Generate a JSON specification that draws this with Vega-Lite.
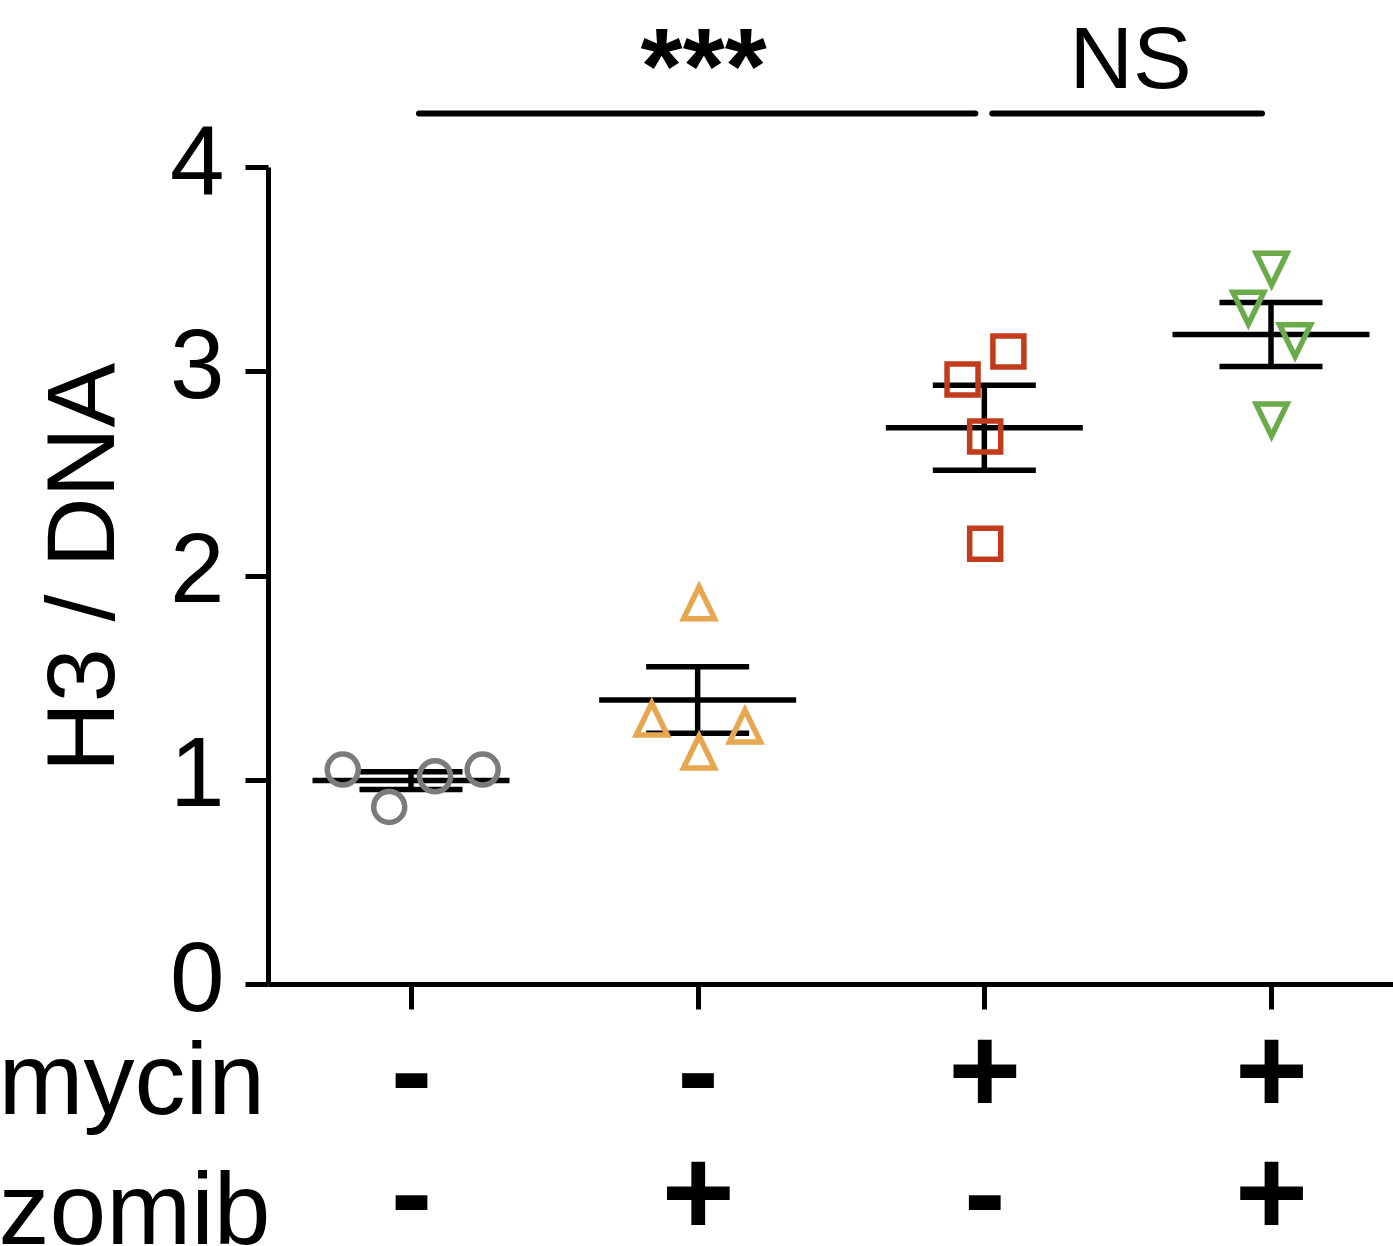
{
  "$schema": "https://vega.github.io/schema/vega-lite/v6.json",
  "width": 1125,
  "height": 817,
  "autosize": {"type": "none"},
  "padding": {"left": 268, "top": 167, "right": 0, "bottom": 262},
  "background": "white",
  "config": {
    "view": {"stroke": null},
    "font": "Liberation Sans",
    "axis": {"grid": false, "domainColor": "black", "tickColor": "black", "labelColor": "black", "titleColor": "black"}
  },
  "datasets": {
    "points": [
      {"cond": "none", "g": 1, "pos": 0.762, "value": 1.050},
      {"cond": "none", "g": 1, "pos": 0.924, "value": 0.867},
      {"cond": "none", "g": 1, "pos": 1.084, "value": 1.017},
      {"cond": "none", "g": 1, "pos": 1.250, "value": 1.050},
      {"cond": "zomib", "g": 2, "pos": 2.005, "value": 1.867},
      {"cond": "zomib", "g": 2, "pos": 1.840, "value": 1.297},
      {"cond": "zomib", "g": 2, "pos": 2.005, "value": 1.136},
      {"cond": "zomib", "g": 2, "pos": 2.165, "value": 1.263},
      {"cond": "mycin", "g": 3, "pos": 3.084, "value": 3.097},
      {"cond": "mycin", "g": 3, "pos": 2.924, "value": 2.959},
      {"cond": "mycin", "g": 3, "pos": 3.003, "value": 2.681},
      {"cond": "mycin", "g": 3, "pos": 3.003, "value": 2.156},
      {"cond": "mycin+zomib", "g": 4, "pos": 4.002, "value": 3.500},
      {"cond": "mycin+zomib", "g": 4, "pos": 3.921, "value": 3.309},
      {"cond": "mycin+zomib", "g": 4, "pos": 4.084, "value": 3.150},
      {"cond": "mycin+zomib", "g": 4, "pos": 4.002, "value": 2.761}
    ],
    "annot": [
      {"from": 1, "to": 3, "mid": 2, "label": "***"},
      {"from": 3, "to": 4, "mid": 3.5, "label": "NS"}
    ]
  },
  "layer": [
    {
      "data": {"name": "points"},
      "mark": {
        "type": "errorbar",
        "extent": "stderr",
        "orient": "vertical",
        "color": "black",
        "thickness": 5.5,
        "rule": {"color": "black", "opacity": 1, "strokeWidth": 5.5},
        "ticks": {"size": 103, "thickness": 5.5, "color": "black", "opacity": 1}
      },
      "encoding": {
        "x": {
          "field": "g",
          "type": "quantitative",
          "scale": {"domain": [0.5012, 4.4256], "nice": false, "zero": false},
          "axis": {
            "values": [1, 2, 3, 4],
            "labelExpr": "datum.value == 1 ? ['-', '-'] : datum.value == 2 ? ['-', '+'] : datum.value == 3 ? ['+', '-'] : ['+', '+']",
            "labelFontSize": 125,
            "labelFontWeight": "bold",
            "labelBaseline": "alphabetic",
            "labelLineHeight": 122,
            "labelPadding": 103,
            "labelAlign": "center",
            "labelFlush": false,
            "labelOverlap": false,
            "labelBound": false,
            "tickSize": 25,
            "tickWidth": 5,
            "domainWidth": 5,
            "title": ["mycin", "zomib"],
            "titleFontSize": 102,
            "titleFontWeight": "normal",
            "titleAlign": "left",
            "titleAnchor": "start",
            "titleBaseline": "alphabetic",
            "titleLineHeight": 130,
            "titleX": -270,
            "titleY": 129
          }
        },
        "y": {
          "field": "value",
          "type": "quantitative",
          "scale": {"domain": [0, 4], "nice": false, "zero": true},
          "axis": {
            "values": [0, 1, 2, 3, 4],
            "format": "d",
            "labelFontSize": 98,
            "labelPadding": 21,
            "labelOffset": -3,
            "tickSize": 23,
            "tickWidth": 5,
            "domainWidth": 5,
            "title": "H3 / DNA",
            "titleFontSize": 97,
            "titleFontWeight": "normal",
            "titleAngle": 270,
            "titleAlign": "center",
            "titleBaseline": "alphabetic",
            "titleX": -155,
            "titleY": 400
          }
        }
      }
    },
    {
      "data": {"name": "points"},
      "mark": {"type": "tick", "orient": "horizontal", "color": "black", "size": 197, "thickness": 5.5, "opacity": 1},
      "encoding": {
        "x": {"field": "g", "type": "quantitative"},
        "y": {"aggregate": "mean", "field": "value", "type": "quantitative"}
      }
    },
    {
      "data": {"name": "points"},
      "mark": {"type": "point", "filled": false, "strokeWidth": 5.5, "size": 961, "opacity": 1},
      "encoding": {
        "x": {"field": "pos", "type": "quantitative"},
        "y": {"field": "value", "type": "quantitative"},
        "color": {
          "field": "cond",
          "type": "nominal",
          "scale": {"domain": ["none", "zomib", "mycin", "mycin+zomib"], "range": ["#7b7b7b", "#E7A650", "#C23B1D", "#6CAB4C"]},
          "legend": null
        },
        "shape": {
          "field": "cond",
          "type": "nominal",
          "scale": {"domain": ["none", "zomib", "mycin", "mycin+zomib"], "range": ["circle", "M0,-1.03L-1,1.03L1,1.03Z", "square", "M0,1.03L-1,-1.03L1,-1.03Z"]},
          "legend": null
        }
      }
    },
    {
      "data": {"name": "annot"},
      "mark": {"type": "rule", "color": "black", "strokeWidth": 6, "strokeCap": "round", "xOffset": 8, "x2Offset": -9},
      "encoding": {
        "x": {"field": "from", "type": "quantitative"},
        "x2": {"field": "to"},
        "y": {"datum": 4.262}
      }
    },
    {
      "data": {"name": "annot"},
      "transform": [{"filter": "datum.label == '***'"}],
      "mark": {"type": "text", "color": "black", "fontSize": 108, "fontWeight": "bold", "baseline": "alphabetic", "align": "center", "dy": -10, "dx": 6},
      "encoding": {
        "x": {"field": "mid", "type": "quantitative"},
        "y": {"datum": 4.262},
        "text": {"field": "label"}
      }
    },
    {
      "data": {"name": "annot"},
      "transform": [{"filter": "datum.label == 'NS'"}],
      "mark": {"type": "text", "color": "black", "fontSize": 88, "fontWeight": "normal", "baseline": "alphabetic", "align": "center", "dy": -25, "dx": 3},
      "encoding": {
        "x": {"field": "mid", "type": "quantitative"},
        "y": {"datum": 4.262},
        "text": {"field": "label"}
      }
    }
  ]
}
